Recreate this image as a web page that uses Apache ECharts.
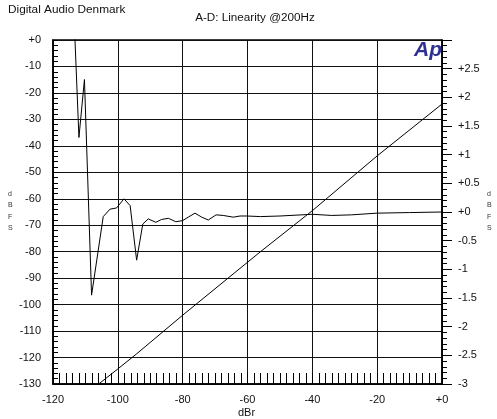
<!DOCTYPE html>
<html>
<head>
<meta charset="utf-8">
<script src="https://cdn.jsdelivr.net/npm/echarts@6/dist/echarts.min.js"></script>
<style>html,body{margin:0;padding:0;background:#fff;}#c{width:497px;height:419px;}</style>
</head>
<body>
<div id="c"></div>
<script>
// Linearity deviation (right axis, dBFS) vs level (dBr)
const devX = [-114, -112, -110.3, -108.1, -104.5, -102.4, -100.4, -98.1, -96.2, -94.2, -92.3, -90.6, -88.3, -86.5, -84.4, -82.1, -80, -78.3, -76.2, -74.1, -72.1, -69.7, -67.5, -64.4, -62.3, -60.2, -56, -50, -40, -34, -28, -20, -10, 0];
const devY = [4.1, 1.30, 2.31, -1.45, -0.08, 0.05, 0.07, 0.23, 0.11, -0.84, -0.21, -0.12, -0.18, -0.13, -0.11, -0.17, -0.15, -0.09, -0.02, -0.09, -0.14, -0.05, -0.06, -0.09, -0.07, -0.07, -0.08, -0.07, -0.04, -0.06, -0.05, -0.02, -0.01, 0.00];
// Output level (left axis, dBFS) vs level (dBr)
const levX = [-106, -100, -94.2, -80, -56, -40, -20, 0];
const levY = [-130.1, -124.3, -118.6, -104.0, -80.0, -64.5, -43.8, -24.2];
const xTicks = [-120, -100, -80, -60, -40, -20, 0];

const fmtSigned = v => (v === 0 ? '+0' : (v > 0 ? '+' + v : String(v)));
const font = 'Liberation Sans';
const lbl = { fontFamily: font, fontSize: 11, color: '#111' };

const chart = echarts.init(document.getElementById('c'));
chart.setOption({
  animation: false,
  backgroundColor: '#fff',
  grid: { left: 53, top: 40, right: 55, bottom: 35, show: true, borderColor: '#000', borderWidth: 1.5 },
  title: [
    { text: 'Digital Audio Denmark', left: 8, top: 4, padding: 0, textStyle: { fontFamily: font, fontSize: 11.8, fontWeight: 'normal', color: '#111' } },
    { text: 'A-D: Linearity @200Hz', left: 255, textAlign: 'center', top: 12, padding: 0, textStyle: { fontFamily: font, fontSize: 11.7, fontWeight: 'normal', color: '#111' } }
  ],
  xAxis: {
    type: 'value', min: xTicks[0], max: xTicks[xTicks.length - 1], interval: 20, position: 'bottom',
    axisLine: { show: true, onZero: false, lineStyle: { color: '#000', width: 1.5 } },
    axisTick: { show: true, inside: true, length: 11, lineStyle: { color: '#000' } },
    minorTick: { show: true, splitNumber: 10, length: 11, lineStyle: { color: '#000', width: 1 } },
    axisLabel: Object.assign({ margin: 10, formatter: fmtSigned }, lbl),
    splitLine: { show: true, lineStyle: { color: '#111', width: 1 } }
  },
  yAxis: [
    {
      type: 'value', min: -130, max: 0, interval: 10, position: 'left',
      axisLine: { show: true, onZero: false, lineStyle: { color: '#000', width: 1.5 } },
      axisTick: { show: true, inside: true, length: 5, lineStyle: { color: '#000' } },
      minorTick: { show: true, splitNumber: 5, length: 5, lineStyle: { color: '#000', width: 1 } },
      axisLabel: Object.assign({ margin: 12, formatter: fmtSigned }, lbl),
      splitLine: { show: true, lineStyle: { color: '#111', width: 1 } }
    },
    {
      type: 'value', min: -3, max: 3, interval: 0.5, position: 'right',
      axisLine: { show: true, onZero: false, lineStyle: { color: '#000', width: 1.5 } },
      axisTick: { show: true, inside: false, length: 10, lineStyle: { color: '#000' } },
      minorTick: { show: true, splitNumber: 5, length: 5, lineStyle: { color: '#000', width: 1 } },
      axisLabel: Object.assign({ margin: 16, formatter: v => (v === 3 ? '' : fmtSigned(v)) }, lbl),
      splitLine: { show: false }
    }
  ],
  series: [
    { type: 'line', yAxisIndex: 1, data: devX.map((x, i) => [x, devY[i]]), symbol: 'none', lineStyle: { color: '#000', width: 1 } },
    { type: 'line', yAxisIndex: 0, data: levX.map((x, i) => [x, levY[i]]), symbol: 'none', lineStyle: { color: '#000', width: 1 } }
  ],
  graphic: [
    { type: 'text', left: 414, top: 40, z: 10, style: { text: 'Ap', font: 'italic 900 21px "Liberation Sans"', fill: '#2e3192' } },
    { type: 'text', left: 238, top: 407, style: { text: 'dBr', font: '11px "Liberation Sans"', fill: '#111' } },
    { type: 'text', left: 8, top: 188, style: { text: 'd\nB\nF\nS', font: '7px "Liberation Sans"', lineHeight: 11.5, fill: '#333', align: 'center' } },
    { type: 'text', left: 487, top: 188, style: { text: 'd\nB\nF\nS', font: '7px "Liberation Sans"', lineHeight: 11.5, fill: '#333', align: 'center' } }
  ]
});
</script>
</body>
</html>
